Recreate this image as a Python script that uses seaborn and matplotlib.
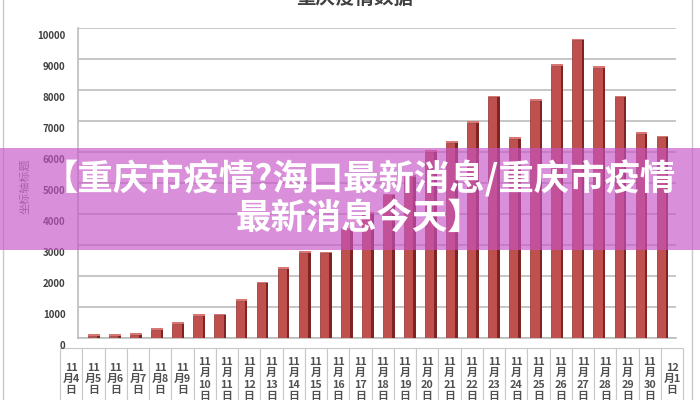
import matplotlib
matplotlib.use("Agg")
import matplotlib.pyplot as plt
from matplotlib.patches import Rectangle
from matplotlib.transforms import ScaledTranslation
import seaborn as sns
import pandas as pd

# Chongqing daily figures, 11/4 - 12/1
dates = ["11月4日", "11月5日", "11月6日", "11月7日", "11月8日", "11月9日",
         "11月10日", "11月11日", "11月12日", "11月13日", "11月14日", "11月15日",
         "11月16日", "11月17日", "11月18日", "11月19日", "11月20日", "11月21日",
         "11月22日", "11月23日", "11月24日", "11月25日", "11月26日", "11月27日",
         "11月28日", "11月29日", "11月30日", "12月1日"]
cases = [60, 80, 100, 250, 450, 700, 730, 1200, 1760, 2220, 2750, 2730,
         3500, 4000, 4600, 5200, 6000, 6300, 6950, 7760, 6410, 7640,
         8780, 9600, 8710, 7760, 6570, 6470]
y_ticks = [0, 1000, 2000, 3000, 4000, 5000, 6000, 7000, 8000, 9000, 10000]

title = "重庆疫情数据"
y_title = "坐标轴标题"
banner = "【重庆市疫情?海口最新消息/重庆市疫情\n最新消息今天】"


def cell_label(d):
    # Excel wraps the date text inside the narrow table cells
    m, rest = d.split("月")
    day = rest.rstrip("日")
    if len(day) == 1:
        return f"{m}\n月{day}\n日"
    return f"{m}\n月\n{day}\n日"


df = pd.DataFrame({"date": dates, "cases": cases})

sns.set_theme(style="white")
plt.rcParams["font.family"] = ["Noto Sans CJK SC", "DejaVu Sans"]

fig = plt.figure(figsize=(7, 4), dpi=100)
ax = fig.add_axes([78 / 700, 62 / 400, 598 / 700, 310 / 400])

sns.barplot(data=df, x="date", y="cases", color="#C0504D", saturation=1,
            width=0.44, edgecolor="#8C2F2C", linewidth=0.5, ax=ax, zorder=3)

# fake 3D: darker side face and a light top cap on each bar
for p in list(ax.patches):
    x0, w, h = p.get_x(), p.get_width(), p.get_height()
    ax.add_patch(Rectangle((x0 + w, 0), w * 0.28, h, facecolor="#7E2523",
                           edgecolor="none", zorder=3))
    ax.add_patch(Rectangle((x0, h), w * 1.28, 60, facecolor="#D97573",
                           edgecolor="none", zorder=3))

ax.set_xlim(-0.7, len(dates) - 0.3)
ax.set_ylim(0, 10000)
ax.set_yticks(y_ticks)
ax.set_yticklabels([str(v) for v in y_ticks], fontsize=7, color="#404040",
                   fontweight="bold")
ax.set_xticks([])
ax.set_xlabel("")
ax.set_ylabel("")
ax.tick_params(axis="y", length=0, pad=9)
for lab in ax.get_yticklabels():
    lab.set_transform(lab.get_transform() +
                      ScaledTranslation(0, -0.07, fig.dpi_scale_trans))

ax.grid(axis="y", color="#BDBDBD", linewidth=1.2, zorder=0)
for side in ["top", "right"]:
    ax.spines[side].set_visible(False)
ax.spines["left"].set_color("#BDBDBD")
ax.spines["bottom"].set_color("#BDBDBD")
ax.spines["left"].set_linewidth(1.2)
ax.spines["bottom"].set_linewidth(1.2)

# data table with the category names under the floor
tbl = ax.table(cellText=[[cell_label(d) for d in dates]], cellLoc="center",
               bbox=[-0.030, -0.232, 1.042, 0.2])
tbl.auto_set_font_size(False)
tbl.set_fontsize(7.8)
for cell in tbl.get_celld().values():
    cell.set_edgecolor("#C8C8C8")
    cell.set_linewidth(0.8)
    cell.get_text().set_color("#505050")
    cell.get_text().set_fontweight("bold")
    cell.get_text().set_linespacing(1.15)

fig.text(0.507, 1.003, title, ha="center", va="center", fontsize=14,
         fontweight="bold", color="#404040")
fig.text(0.036, 0.535, y_title, rotation=90, ha="center", va="center",
         fontsize=8, color="#7A7A7A")

# outer chart frame
fig.add_artist(Rectangle((3 / 700, -0.01), 689 / 700, 1.05, transform=fig.transFigure,
                         fill=False, edgecolor="#C8C8C8", linewidth=1))

# pink banner laid over the chart
fig.add_artist(Rectangle((0, 0.375), 1, 0.255, transform=fig.transFigure,
                         facecolor="#C553C5", alpha=0.65, edgecolor="none",
                         zorder=10))
fig.text(0.513, 0.505, banner, ha="center", va="center", fontsize=25.5,
         fontweight="heavy", color="white", linespacing=1.1, zorder=11)

fig.savefig("out.png", dpi=100)
plt.close(fig)
